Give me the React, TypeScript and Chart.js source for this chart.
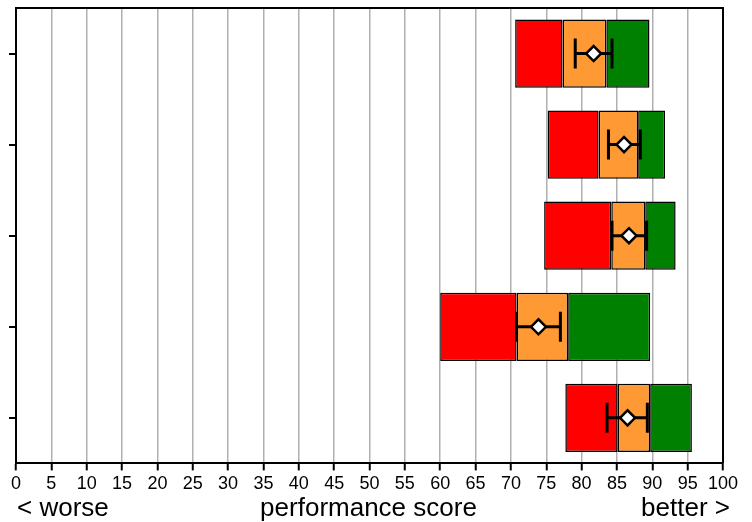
import React, { useEffect, useRef } from "react";
import { Chart, registerables } from "chart.js";

Chart.register(...registerables);

const categories = ["Group 1", "Group 2", "Group 3", "Group 4", "Group 5"];
const redStart = [70.6, 75.2, 74.7, 60.0, 77.7];
const orangeStart = [77.3, 82.4, 84.2, 70.8, 85.1];
const greenStart = [83.5, 88.0, 89.0, 78.1, 89.7];
const greenEnd = [89.6, 91.8, 93.3, 89.7, 95.6];
const means = [81.7, 86.0, 86.7, 73.9, 86.5];
const errLow = [79.1, 83.8, 84.3, 70.8, 83.6];
const errHigh = [84.3, 88.3, 89.2, 77.0, 89.3];
const xTicks = [0, 5, 10, 15, 20, 25, 30, 35, 40, 45, 50, 55, 60, 65, 70, 75, 80, 85, 90, 95, 100];
const leftLabel = "< worse";
const centerLabel = "performance score";
const rightLabel = "better >";

const FONT = "'Liberation Sans', Arial, Helvetica, sans-serif";

const decorPlugin = {
  id: "decor",
  beforeDatasetDraw(chart: any, args: any) {
    if (args.index !== 3) return;
    const ctx = chart.ctx;
    const xs = chart.scales.x;
    const ys = chart.scales.y;
    ctx.save();
    ctx.strokeStyle = "#000";
    ctx.lineWidth = 3;
    ctx.lineCap = "butt";
    for (let i = 0; i < categories.length; i++) {
      const y = ys.getPixelForValue(i);
      const x1 = xs.getPixelForValue(errLow[i]);
      const x2 = xs.getPixelForValue(errHigh[i]);
      ctx.beginPath();
      ctx.moveTo(x1, y);
      ctx.lineTo(x2, y);
      ctx.moveTo(x1, y - 15);
      ctx.lineTo(x1, y + 15);
      ctx.moveTo(x2, y - 15);
      ctx.lineTo(x2, y + 15);
      ctx.stroke();
    }
    ctx.restore();
  },
  afterDraw(chart: any) {
    const ctx = chart.ctx;
    const a = chart.chartArea;
    ctx.save();
    ctx.strokeStyle = "#000";
    ctx.lineWidth = 2;
    ctx.beginPath();
    ctx.moveTo(a.left, a.bottom);
    ctx.lineTo(a.left, a.top);
    ctx.lineTo(a.right, a.top);
    ctx.lineTo(a.right, a.bottom);
    ctx.stroke();
    ctx.fillStyle = "#000";
    ctx.font = `26px ${FONT}`;
    ctx.textBaseline = "alphabetic";
    const y = 516;
    ctx.textAlign = "left";
    ctx.fillText(leftLabel, a.left + 1, y);
    ctx.textAlign = "center";
    ctx.fillText(centerLabel, (a.left + a.right) / 2 - 1, y);
    ctx.textAlign = "right";
    ctx.fillText(rightLabel, a.right + 7, y);
    ctx.restore();
  },
};

export default function App() {
  const ref = useRef<HTMLCanvasElement | null>(null);
  useEffect(() => {
    if (!ref.current) return;
    const barCommon = {
      borderColor: "#000",
      borderWidth: 1.5,
      borderSkipped: false,
      grouped: false,
      barPercentage: 0.75,
      categoryPercentage: 1,
    };
    const chart = new Chart(ref.current, {
      type: "bar",
      data: {
        labels: categories,
        datasets: [
          {
            ...barCommon,
            label: "red",
            data: categories.map((_, i) => [redStart[i], orangeStart[i]]),
            backgroundColor: "#ff0000",
          },
          {
            ...barCommon,
            label: "orange",
            data: categories.map((_, i) => [orangeStart[i], greenStart[i]]),
            backgroundColor: "#ff9933",
          },
          {
            ...barCommon,
            label: "green",
            data: categories.map((_, i) => [greenStart[i], greenEnd[i]]),
            backgroundColor: "#008000",
          },
          {
            type: "line",
            label: "mean",
            indexAxis: "y",
            order: -1,
            clip: false,
            data: categories.map((c, i) => ({ x: means[i], y: c })),
            showLine: false,
            pointStyle: "rectRot",
            pointRadius: 7.5,
            pointBackgroundColor: "#fff",
            pointBorderColor: "#000",
            pointBorderWidth: 2.5,
          } as any,
        ],
      },
      options: {
        indexAxis: "y",
        animation: false,
        responsive: true,
        maintainAspectRatio: false,
        layout: { autoPadding: false, padding: { left: 9, top: 8, right: 29, bottom: 24 } },
        plugins: { legend: { display: false }, tooltip: { enabled: false } },
        scales: {
          x: {
            type: "linear",
            min: 0,
            max: 100,
            afterBuildTicks: (scale: any) => {
              scale.ticks = xTicks.map((v) => ({ value: v }));
            },
            ticks: {
              color: "#000",
              padding: 3,
              maxRotation: 0,
              autoSkip: false,
              font: { family: FONT, size: 18 },
            },
            grid: {
              color: "#b0b0b0",
              lineWidth: 1.5,
              drawTicks: true,
              tickLength: 7,
              tickColor: "#000",
              tickWidth: 2,
            },
            border: { display: true, color: "#000", width: 2 },
          },
          y: {
            type: "category",
            ticks: { display: false },
            grid: {
              offset: false,
              drawOnChartArea: false,
              drawTicks: true,
              tickLength: 7,
              tickColor: "#000",
              tickWidth: 2,
              lineWidth: 2,
              color: "#000",
            },
            border: { display: true, color: "#000", width: 2 },
          },
        },
      },
      plugins: [decorPlugin],
    } as any);
    return () => chart.destroy();
  }, []);
  return (
    <div style={{ position: "fixed", left: 0, top: 0, width: 752, height: 522, background: "#fff" }}>
      <canvas ref={ref} />
    </div>
  );
}
